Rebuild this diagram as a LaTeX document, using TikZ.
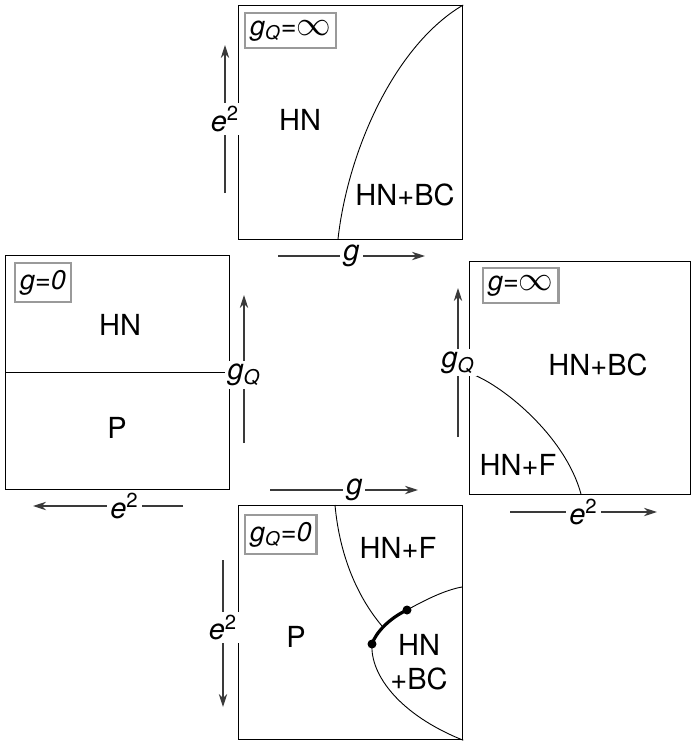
\documentclass[tikz,border=0pt]{standalone}
\usepackage{fontspec}
\setmainfont{TeX Gyre Heros}
\usetikzlibrary{arrows.meta}
\definecolor{axisgray}{HTML}{3A3A3A}
\definecolor{taggray}{HTML}{9A9A9A}
\newcommand{\infsym}{{\fontsize{16}{16}\selectfont$\infty$}}

\begin{document}
\begin{tikzpicture}[x=0.5pt, y=-0.5pt,
  panel/.style={draw, line width=0.6pt},
  border/.style={line width=0.45pt},
  crit/.style={line width=1.6pt},
  tag/.style={draw=taggray, line width=1.2pt, anchor=north west, inner xsep=2.5pt, inner ysep=3.5pt, font=\fontsize{13.5}{14}\selectfont\itshape},
  phase/.style={font=\fontsize{14.5}{17}\selectfont, align=center},
  ax/.style={draw=axisgray, line width=0.55pt, -{Stealth[length=6.5pt, width=4.2pt]}},
  axlab/.style={fill=white, inner sep=1.5pt, font=\fontsize{14.5}{15}\selectfont\itshape},
  dot/.style={circle, fill, inner sep=0pt, minimum size=4.5pt}]
  \useasboundingbox (0,0) rectangle (691,741);

  % g_Q = infinity (top)
  \node[panel, minimum width=112pt, minimum height=117pt, anchor=north west] (ptop) at (238,5) {};
  \node[tag] (tagtop) at (244,12) {g\textsubscript{Q}=\infsym};
  \draw[border] (338,239) .. controls (348,150) and (395,45) .. (ptop.north east);
  \node[phase] (hntop) at (300,120) {HN};
  \node[phase] (bctop) at (405,195) {HN+BC};
  \coordinate (etA) at (225,193);
  \coordinate (etB) at (225,45);
  \draw[ax] (etA) -- node[axlab, pos=0.5] (etlab) {e\textsuperscript{\upshape 2}} (etB);
  \coordinate (gtA) at (278,256);
  \coordinate (gtB) at (425,256);
  \draw[ax] (gtA) -- node[axlab, pos=0.5] (gtlab) {g} (gtB);

  % g = 0 (left)
  \node[panel, minimum width=112pt, minimum height=117pt, anchor=north west] (pleft) at (5,255) {};
  \node[tag] (tagleft) at (14,262) {g=0};
  \draw[border] (pleft.west) -- (pleft.east);
  \node[phase] (hnleft) at (120,325) {HN};
  \node[phase] (pphase) at (117,428) {P};
  \coordinate (gqA) at (244,443);
  \coordinate (gqB) at (244,295);
  \draw[ax] (gqA) -- node[axlab, pos=0.46] (gqlab) {g\textsubscript{Q}} (gqB);
  \coordinate (elA) at (183,506);
  \coordinate (elB) at (33,506);
  \draw[ax] (elA) -- node[axlab, pos=0.39] (ellab) {e\textsuperscript{\upshape 2}} (elB);

  % g = infinity (right)
  \node[panel, minimum width=110.5pt, minimum height=116.5pt, anchor=north west] (pright) at (469,261) {};
  \node[tag] (tagright) at (482,267) {g=\infsym};
  \draw[border] (469,373) .. controls (500,383) and (565,435) .. (581,494);
  \node[phase] (bcright) at (598,365) {HN+BC};
  \node[phase] (fright) at (518,465) {HN+F};
  \coordinate (grA) at (458,437);
  \coordinate (grB) at (458,288);
  \draw[ax] (grA) -- node[axlab, pos=0.5] (grlab) {g\textsubscript{Q}} (grB);
  \coordinate (erA) at (510,512);
  \coordinate (erB) at (657,512);
  \draw[ax] (erA) -- node[axlab, pos=0.5] (erlab) {e\textsuperscript{\upshape 2}} (erB);

  % g_Q = 0 (bottom)
  \node[panel, minimum width=112pt, minimum height=117pt, anchor=north west] (pbot) at (238,505) {};
  \node[tag] (tagbot) at (244,514) {g\textsubscript{Q}=0};
  \node[dot] (d1) at (372,644) {};
  \node[dot] (d2) at (407,610) {};
  \draw[border] (335,505) .. controls (340,560) and (360,600) .. (382,626);
  \draw[crit] (d1.center) .. controls (376,632) and (390,618) .. (d2.center);
  \draw[border] (d2.center) .. controls (425,600) and (445,590) .. (462,587);
  \draw[border] (d1.center) .. controls (370,675) and (400,715) .. (pbot.south east);
  \node[phase] (fbot) at (398,548) {HN+F};
  \node[phase] (pbotl) at (296,637) {P};
  \node[phase] (bcbot) at (419,662) {HN\\+BC};
  \coordinate (ebA) at (223,560);
  \coordinate (ebB) at (223,707);
  \draw[ax] (ebA) -- node[axlab, pos=0.46] (eblab) {e\textsuperscript{\upshape 2}} (ebB);
  \coordinate (gbA) at (270,490);
  \coordinate (gbB) at (418,490);
  \draw[ax] (gbA) -- node[axlab, pos=0.57] (gblab) {g} (gbB);
\end{tikzpicture}
\end{document}
